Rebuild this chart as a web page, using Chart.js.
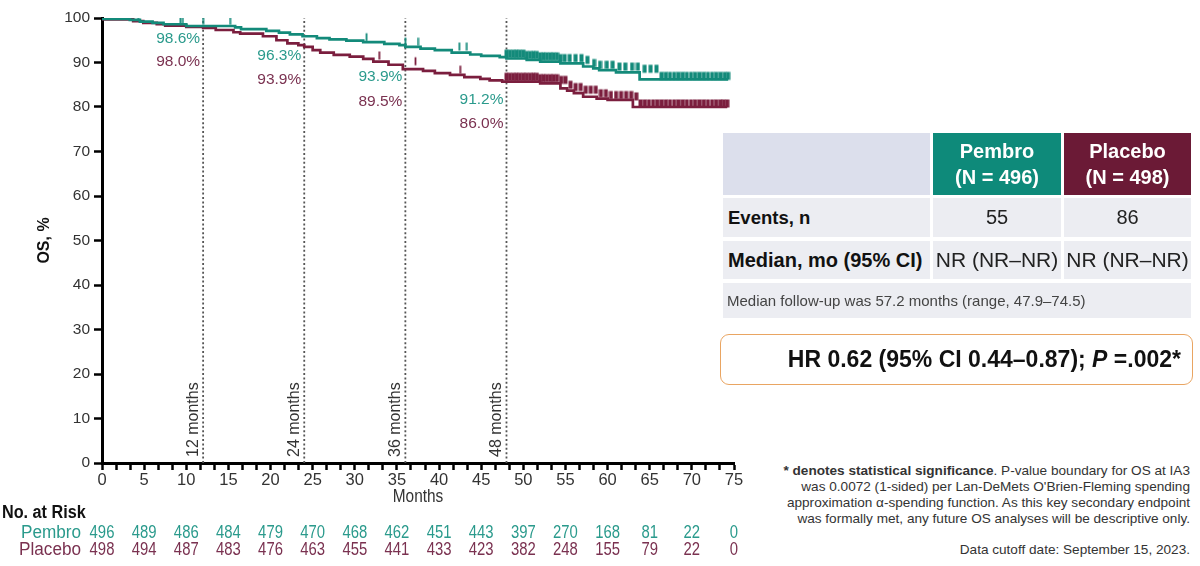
<!DOCTYPE html>
<html>
<head>
<meta charset="utf-8">
<script src="https://cdn.jsdelivr.net/npm/chart.js@4.4.1/dist/chart.umd.min.js"></script>
<style>
  body { margin: 0; background: #fff; font-family: "Liberation Sans", Arial, sans-serif; }
  #wrap { position: relative; width: 1200px; height: 566px; overflow: hidden; }
  #km { position: absolute; left: 0; top: 0; }
  .cell { position: absolute; box-sizing: border-box; display: flex; align-items: center; }
  .hd { justify-content: center; text-align: center; color: #fff; font-weight: bold; font-size: 20px; line-height: 26px; }
  .lbl { font-weight: bold; color: #111; padding-left: 5px; }
  .val { justify-content: center; color: #222; }
  #hr { position: absolute; left: 720px; top: 334px; width: 473px; height: 51px; box-sizing: border-box;
        border: 1.5px solid #e9a562; border-radius: 9px; display: flex; align-items: center; justify-content: flex-end;
        padding-right: 11px; font-weight: bold; font-size: 23px; color: #111; }
  #note { position: absolute; right: 10px; top: 463px; text-align: right; font-size: 13.6px; line-height: 16px; color: #333; }
  #cutoff { position: absolute; right: 10px; top: 542px; font-size: 13.6px; color: #333; }
</style>
</head>
<body>
<div id="wrap">
  <canvas id="km" width="760" height="566"></canvas>

  <div class="cell" style="left:723px;top:133px;width:207px;height:62px;background:#dcdfec"></div>
  <div class="cell hd" style="left:933px;top:133px;width:128px;height:62px;background:#0e8a7a">Pembro<br>(N = 496)</div>
  <div class="cell hd" style="left:1064px;top:133px;width:127px;height:62px;background:#6b1a36">Placebo<br>(N = 498)</div>

  <div class="cell lbl" style="left:723px;top:198px;width:207px;height:39px;background:#ecedf2;font-size:18.5px">Events, n</div>
  <div class="cell val" style="left:933px;top:198px;width:128px;height:39px;background:#ecedf2;font-size:20px">55</div>
  <div class="cell val" style="left:1064px;top:198px;width:127px;height:39px;background:#ecedf2;font-size:20px">86</div>

  <div class="cell lbl" style="left:723px;top:241px;width:207px;height:38px;background:#ecedf2;font-size:20px">Median, mo (95% CI)</div>
  <div class="cell val" style="left:933px;top:241px;width:128px;height:38px;background:#ecedf2;font-size:21px">NR (NR–NR)</div>
  <div class="cell val" style="left:1064px;top:241px;width:127px;height:38px;background:#ecedf2;font-size:21px">NR (NR–NR)</div>

  <div class="cell" style="left:723px;top:283px;width:468px;height:35px;background:#ecedf2;font-size:15px;color:#444;padding-left:4px">Median follow-up was 57.2 months (range, 47.9–74.5)</div>

  <div id="hr">HR 0.62 (95% CI 0.44–0.87);&nbsp;<i>P</i>&nbsp;=.002*</div>

  <div id="note"><b>* denotes statistical significance</b>. P-value boundary for OS at IA3<br>
    was 0.0072 (1-sided) per Lan-DeMets O'Brien-Fleming spending<br>
    approximation α-spending function. As this key secondary endpoint<br>
    was formally met, any future OS analyses will be descriptive only.</div>
  <div id="cutoff">Data cutoff date: September 15, 2023.</div>
</div>

<script>
// Kaplan-Meier OS (mês, %)
const pembroMonths = [0, 3.3, 4.5, 6.0, 7.3, 10.0, 15.8, 16.5, 19.5, 21.0, 22.3, 23.8, 25.5, 27.0, 29.0, 31.0, 33.5, 35.3, 36.0,
  37.8, 39.5, 41.5, 43.7, 45.0, 47.2, 48.0, 50.4, 52.0, 54.4, 57.1, 58.3, 59.0, 61.0, 63.8, 66.2, 74.3]
const pembroOS = [100, 99.8, 99.6, 99.2, 98.9, 98.6, 98.2, 97.9, 97.5, 97.1, 96.7, 96.3, 95.9, 95.5, 95.2, 94.9, 94.6, 94.2, 93.9,
  93.5, 93.1, 92.8, 92.2, 91.8, 91.5, 91.2, 90.9, 90.6, 90.2, 89.8, 89.1, 88.7, 88.3, 87.8, 86.2, 86.2]

const placeboMonths = [0, 3.7, 4.9, 6.5, 7.5, 10.0, 12.0, 13.5, 15.6, 16.4, 19.1, 20.7, 22.0, 23.3, 24.0, 25.0, 25.9, 27.5, 29.4,
  31.0, 32.2, 34.0, 35.7, 38.1, 39.5, 41.3, 43.0, 44.9, 46.0, 47.5, 52.0, 54.4, 55.2, 56.0, 57.1, 58.7, 60.0, 63.0, 63.5, 74.2]
const placeboOS = [100, 99.7, 99.3, 98.9, 98.6, 98.3, 98.0, 97.8, 97.3, 96.8, 96.5, 95.9, 95.0, 94.3, 93.9, 93.5, 92.8, 92.2, 91.7,
  91.3, 90.8, 90.2, 89.5, 88.5, 88.1, 87.6, 87.2, 86.7, 86.3, 86.0, 85.7, 85.3, 84.2, 83.7, 83.1, 82.3, 81.9, 81.6, 80.0, 80.0]

// censuras
const pembroCensored = [2.1, 3.3, 4.3, 9.3, 9.6, 12.0, 15.2, 31.4, 36.0, 37.5, 42.4, 43.3,
  48.0, 48.4, 48.8, 49.2, 49.6, 50.0, 50.4, 50.8, 51.2, 51.6, 52.0, 52.4, 52.8, 53.2, 53.6, 54.0, 54.4, 54.9,
  55.5, 56.2, 56.9, 57.6, 58.4, 59.1, 59.9, 60.6, 61.4, 62.1, 62.9, 63.6, 64.4, 65.1, 65.8,
  66.4, 66.9, 67.4, 67.9, 68.4, 68.9, 69.4, 69.9, 70.4, 70.9, 71.4, 71.9, 72.4, 72.9, 73.4, 73.9, 74.3]
const placeboCensored = [3.5, 32.9, 37.2, 42.5,
  48.0, 48.4, 48.8, 49.2, 49.6, 50.0, 50.4, 50.8, 51.2, 51.6, 52.0, 52.4, 52.8, 53.2, 53.6, 54.0, 54.5,
  55.0, 55.6, 56.2, 56.8, 57.4, 58.0, 58.6, 59.2, 59.8, 60.4, 61.0, 61.6, 62.2, 62.8, 63.4, 63.9,
  64.4, 64.9, 65.4, 65.9, 66.4, 66.9, 67.4, 67.9, 68.4, 68.9, 69.4, 69.9, 70.4, 70.9, 71.4, 71.9, 72.4, 72.9, 73.4, 73.8, 74.2]

// pontos de referência
const landmarkMonths = [12, 24, 36, 48]
const pembroLandmark = [98.6, 96.3, 93.9, 91.2]
const placeboLandmark = [98.0, 93.9, 89.5, 86.0]

// número em risco
const riskMonths = [0, 5, 10, 15, 20, 25, 30, 35, 40, 45, 50, 55, 60, 65, 70, 75]
const pembroAtRisk = [496, 489, 486, 484, 479, 470, 468, 462, 451, 443, 397, 270, 168, 81, 22, 0]
const placeboAtRisk = [498, 494, 487, 483, 476, 463, 455, 441, 433, 423, 382, 248, 155, 79, 22, 0]

const TEAL = "#138a7a"
const MAROON = "#7b1e3e"
const TEAL_TXT = "#2a9a8c"
const MAROON_TXT = "#7a3150"
const SANS = '"Liberation Sans", Arial, sans-serif'

// posição (px) dos rótulos de % em cada marco: [pembro, placebo]
const pctLabelY = [[39, 62], [56, 80], [77, 102], [100, 124]]

const survivalAt = (months, os, t) => {
  let v = os[0]
  for (let i = 0; i < months.length; i++) if (months[i] <= t) v = os[i]
  return v
}

// marca de censura: traço vertical acima da curva
const censorMark = (color, w) => {
  const c = document.createElement("canvas")
  c.width = Math.ceil(w) + 1; c.height = 18
  const g = c.getContext("2d")
  g.fillStyle = color
  g.fillRect((c.width - w) / 2, 1.5, w, 8)
  return c
}
const tealThin = censorMark(TEAL, 1.8), tealThick = censorMark(TEAL, 4)
const maroonThin = censorMark(MAROON, 1.8), maroonThick = censorMark(MAROON, 4)

// texto um pouco condensado (a fonte original é estreita)
const narrowText = (ctx, text, x, y, squeeze = 0.88) => {
  ctx.save()
  ctx.translate(x, y)
  ctx.scale(squeeze, 1)
  ctx.fillText(text, 0, 0)
  ctx.restore()
}

const xTickValues = Array.from({ length: 46 }, (_, i) => i * 5 / 3)

const overlay = {
  id: "overlay",
  beforeDatasetsDraw(chart) {
    const { ctx, scales: { x, y } } = chart
    ctx.save()
    ctx.strokeStyle = "#555"
    ctx.lineWidth = 1.8
    ctx.setLineDash([2, 2.4])
    landmarkMonths.forEach((m) => {
      const px = x.getPixelForValue(m)
      ctx.beginPath()
      ctx.moveTo(px, y.getPixelForValue(0))
      ctx.lineTo(px, y.getPixelForValue(100))
      ctx.stroke()
    })
    ctx.restore()
  },
  afterDraw(chart) {
    const { ctx, scales: { x, y } } = chart
    ctx.save()

    // rótulos dos marcos
    ctx.textAlign = "right"
    ctx.textBaseline = "middle"
    ctx.font = `15.5px ${SANS}`
    landmarkMonths.forEach((m, i) => {
      const px = x.getPixelForValue(m) - 3
      ctx.fillStyle = TEAL_TXT
      ctx.fillText(`${pembroLandmark[i].toFixed(1)}%`, px, pctLabelY[i][0])
      ctx.fillStyle = MAROON_TXT
      ctx.fillText(`${placeboLandmark[i].toFixed(1)}%`, px, pctLabelY[i][1])
    })

    // "12 months" etc. na vertical
    ctx.fillStyle = "#333"
    ctx.font = `16px ${SANS}`
    landmarkMonths.forEach((m) => {
      ctx.save()
      ctx.translate(x.getPixelForValue(m) - 10, y.getPixelForValue(0) - 6)
      ctx.rotate(-Math.PI / 2)
      ctx.textAlign = "left"
      ctx.fillText(`${m} months`, 0, 0)
      ctx.restore()
    })

    // título do eixo y
    ctx.save()
    ctx.translate(45, (y.top + y.bottom) / 2)
    ctx.rotate(-Math.PI / 2)
    ctx.textAlign = "center"
    ctx.fillStyle = "#111"
    ctx.font = `bold 16px ${SANS}`
    ctx.fillText("OS, %", 0, 0)
    ctx.restore()

    // título do eixo x
    ctx.textAlign = "center"
    ctx.fillStyle = "#333"
    ctx.font = `17.5px ${SANS}`
    narrowText(ctx, "Months", (x.left + x.right) / 2, 497)

    // tabela de número em risco
    ctx.textAlign = "left"
    ctx.fillStyle = "#111"
    ctx.font = `bold 18px ${SANS}`
    narrowText(ctx, "No. at Risk", 2, 513, 0.9)

    ctx.font = `17.5px ${SANS}`
    ctx.textAlign = "right"
    ctx.fillStyle = TEAL_TXT
    narrowText(ctx, "Pembro", 81, 533, 0.98)
    ctx.fillStyle = MAROON_TXT
    narrowText(ctx, "Placebo", 81, 550, 0.98)

    ctx.textAlign = "center"
    riskMonths.forEach((m, i) => {
      const px = x.getPixelForValue(m)
      ctx.fillStyle = TEAL_TXT
      narrowText(ctx, String(pembroAtRisk[i]), px, 533, 0.85)
      ctx.fillStyle = MAROON_TXT
      narrowText(ctx, String(placeboAtRisk[i]), px, 550, 0.85)
    })

    ctx.restore()
  }
}

new Chart(document.getElementById("km"), {
  type: "line",
  data: {
    datasets: [
      {
        label: "Pembro",
        data: pembroMonths.map((m, i) => ({ x: m, y: pembroOS[i] })),
        borderColor: TEAL,
        borderWidth: 2.7,
        stepped: "after",
        pointRadius: 0
      },
      {
        label: "Placebo",
        data: placeboMonths.map((m, i) => ({ x: m, y: placeboOS[i] })),
        borderColor: MAROON,
        borderWidth: 2.7,
        stepped: "after",
        pointRadius: 0
      },
      {
        type: "scatter",
        label: "Pembro censored",
        data: pembroCensored.map((t) => ({ x: t, y: survivalAt(pembroMonths, pembroOS, t) })),
        pointStyle: (c) => (c.raw && c.raw.x >= 48 ? tealThick : tealThin),
        showLine: false
      },
      {
        type: "scatter",
        label: "Placebo censored",
        data: placeboCensored.map((t) => ({ x: t, y: survivalAt(placeboMonths, placeboOS, t) })),
        pointStyle: (c) => (c.raw && c.raw.x >= 48 ? maroonThick : maroonThin),
        showLine: false
      }
    ]
  },
  options: {
    responsive: false,
    animation: false,
    layout: { padding: { top: 18, right: 26, left: 0, bottom: 0 } },
    plugins: { legend: { display: false }, tooltip: { enabled: false } },
    scales: {
      x: {
        type: "linear",
        min: 0,
        max: 75,
        afterBuildTicks: (s) => { s.ticks = xTickValues.map((v) => ({ value: v })) },
        afterFit: (s) => { s.height = 103 },
        ticks: {
          autoSkip: false,
          maxRotation: 0,
          padding: 1,
          color: "#333",
          font: { family: SANS, size: 16.5 },
          callback: (v) => (Math.abs(v / 5 - Math.round(v / 5)) < 1e-6 ? Math.round(v) : "")
        },
        grid: { drawOnChartArea: false, tickLength: 7, tickWidth: 2.5, tickColor: "#000" },
        border: { color: "#000", width: 3 }
      },
      y: {
        min: 0,
        max: 100,
        afterFit: (s) => { s.width = 102 },
        ticks: {
          stepSize: 10,
          padding: 4,
          color: "#333",
          font: { family: SANS, size: 15.5 }
        },
        grid: { drawOnChartArea: false, tickLength: 8, tickWidth: 2.5, tickColor: "#000" },
        border: { color: "#000", width: 3 }
      }
    }
  },
  plugins: [overlay]
})
</script>
</body>
</html>
